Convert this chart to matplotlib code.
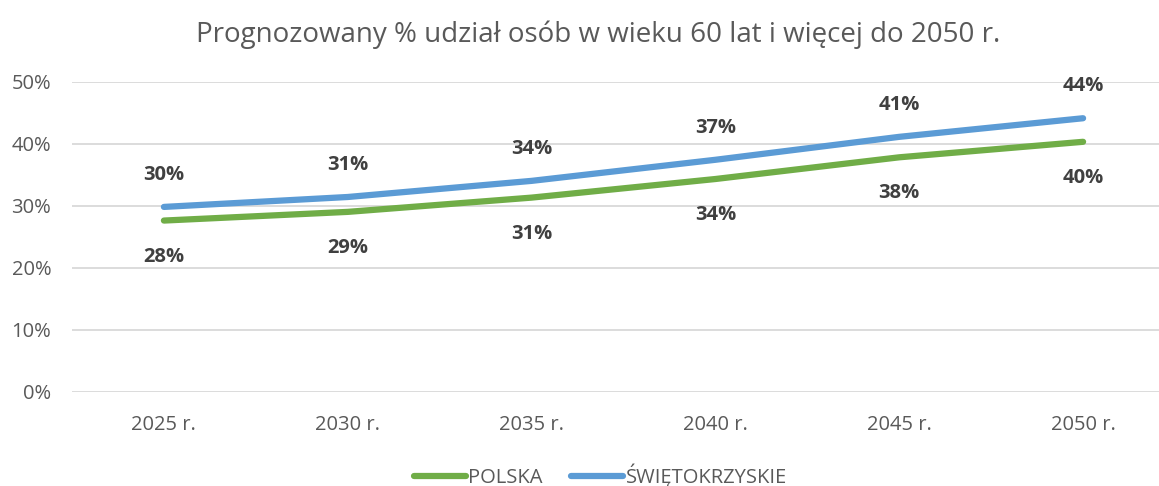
import numpy as np
import matplotlib
matplotlib.use('Agg')
import matplotlib.pyplot as plt
from matplotlib.ticker import PercentFormatter

# data
years = ['2025 r.', '2030 r.', '2035 r.', '2040 r.', '2045 r.', '2050 r.']
polska = [0.276, 0.290, 0.313, 0.343, 0.378, 0.403]
swietokrzyskie = [0.298, 0.314, 0.340, 0.374, 0.411, 0.441]
y_ticks = [0.0, 0.1, 0.2, 0.3, 0.4, 0.5]

GREEN = '#70AD47'
BLUE = '#5B9BD5'
TEXT = '#595959'
LABEL = '#404040'

plt.rcParams['font.family'] = ['Open Sans', 'DejaVu Sans']

fig = plt.figure(figsize=(11.59, 4.86), dpi=100)
ax = fig.add_axes([72 / 1159, 0.194, 1103 / 1159, 0.638])

x = np.arange(len(years))
ax.plot(x, polska, color=GREEN, lw=4.5, solid_capstyle='round', label='POLSKA', zorder=3)
ax.plot(x, swietokrzyskie, color=BLUE, lw=4.5, solid_capstyle='round', label='ŚWIĘTOKRZYSKIE', zorder=3)

for xi, v in zip(x, swietokrzyskie):
    ax.annotate(f'{v * 100:.0f}%', (xi, v), xytext=(0, 32), textcoords='offset pixels',
                ha='center', va='center', fontsize=14.5, fontweight='bold', color=LABEL)
for xi, v in zip(x, polska):
    ax.annotate(f'{v * 100:.0f}%', (xi, v), xytext=(0, -36), textcoords='offset pixels',
                ha='center', va='center', fontsize=14.5, fontweight='bold', color=LABEL)

ax.set_xlim(-0.5, len(years) - 0.5)
ax.set_ylim(0, 0.5)
ax.set_yticks(y_ticks)
ax.yaxis.set_major_formatter(PercentFormatter(1.0, decimals=0))
ax.set_xticks(x)
ax.set_xticklabels(years)
ax.tick_params(axis='both', length=0, labelsize=14.5, labelcolor=TEXT)
ax.tick_params(axis='x', pad=17)
ax.tick_params(axis='y', pad=15)
ax.grid(axis='y', color='#D9D9D9', lw=1.3)
ax.set_axisbelow(True)
for s in ax.spines.values():
    s.set_visible(False)

fig.text(0.516, 0.928, 'Prognozowany % udział osób w wieku 60 lat i więcej do 2050 r.',
         ha='center', va='center', fontsize=20, color=TEXT)

fig.legend(loc='center', bbox_to_anchor=(0.518, 0.022), ncol=2, frameon=False,
           fontsize=14.5, labelcolor=TEXT, handlelength=2.6, handletextpad=0.1,
           columnspacing=1.4)

fig.savefig('out.png', dpi=100)
